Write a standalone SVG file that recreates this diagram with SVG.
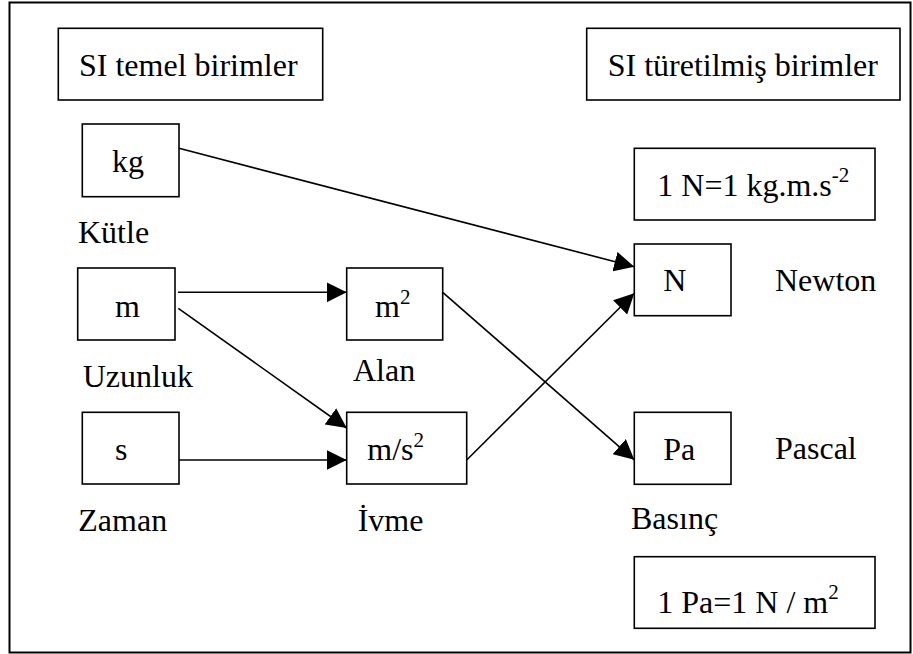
<svg xmlns="http://www.w3.org/2000/svg" width="913" height="654" viewBox="0 0 913 654">
<style>
.box{fill:#fff;stroke:#000;stroke-width:1.6}
.sup{font-size:21px}
.c{stroke:#000;stroke-width:1.6;fill:none;marker-end:url(#ah)}
</style>
<defs>
<marker id="ah" markerUnits="userSpaceOnUse" markerWidth="20" markerHeight="20" refX="20" refY="10" orient="auto" viewBox="0 0 20 20">
<path d="M0,0 L20,10 L0,20 z" fill="#000"/>
</marker>
</defs>
<rect x="9.5" y="2.5" width="901" height="650" fill="#fff" stroke="#000" stroke-width="2"/>
<g font-family="Liberation Serif, DejaVu Serif, serif" font-size="32" fill="#000">
<g id="header-base"><rect class="box" x="58.3" y="28.3" width="264.4" height="71.7"/><text x="79" y="76">SI temel birimler</text></g>
<g id="header-derived"><rect class="box" x="586.7" y="28.3" width="313.3" height="71.7"/><text x="607.7" y="76">SI türetilmiş birimler</text></g>
<g id="kg"><rect class="box" x="82.3" y="124" width="96.7" height="72.7"/><text x="112" y="171.7">kg</text><text x="78" y="243">Kütle</text></g>
<g id="m"><rect class="box" x="77.7" y="268" width="97.3" height="72"/><text x="115" y="316.7">m</text><text x="82.7" y="387">Uzunluk</text></g>
<g id="s"><rect class="box" x="82.3" y="412.3" width="96.7" height="71.7"/><text x="115" y="460">s</text><text x="78.3" y="530.7">Zaman</text></g>
<g id="m2"><rect class="box" x="346.7" y="268" width="96" height="72"/><text x="375" y="316.7">m<tspan class="sup" dy="-13">2</tspan></text><text x="353" y="380.7">Alan</text></g>
<g id="ms2"><rect class="box" x="346.7" y="412.3" width="120" height="71.7"/><text x="367.3" y="460">m/s<tspan class="sup" dy="-13">2</tspan></text><text x="357.7" y="530.7">İvme</text></g>
<g id="newton-def"><rect class="box" x="634.3" y="148.3" width="240.7" height="71.7"/><text x="657.3" y="195.5">1 N=1 kg.m.s<tspan class="sup" dy="-14">-2</tspan></text></g>
<g id="N"><rect class="box" x="634.3" y="244" width="96.7" height="71.7"/><text x="663.3" y="290.7">N</text><text x="775" y="290.7">Newton</text></g>
<g id="Pa"><rect class="box" x="634.3" y="412.3" width="96.7" height="72"/><text x="663.3" y="460">Pa</text><text x="775" y="459.3">Pascal</text><text x="631" y="529.3">Basınç</text></g>
<g id="pascal-def"><rect class="box" x="634.3" y="556.7" width="240.7" height="71.6"/><text x="657.3" y="613.3">1 Pa=1 N / m<tspan class="sup" dy="-14">2</tspan></text></g>
</g>
<g id="connectors">
<line class="c" x1="179" y1="148.3" x2="634.3" y2="266.7"/>
<line class="c" x1="178" y1="292.3" x2="346.7" y2="292.3"/>
<line class="c" x1="178.3" y1="308.3" x2="346.7" y2="428"/>
<line class="c" x1="179" y1="460" x2="346.7" y2="460"/>
<line class="c" x1="442.7" y1="292.3" x2="634.3" y2="459.8"/>
<line class="c" x1="466.7" y1="460" x2="634.3" y2="293.3"/>
</g>
</svg>
